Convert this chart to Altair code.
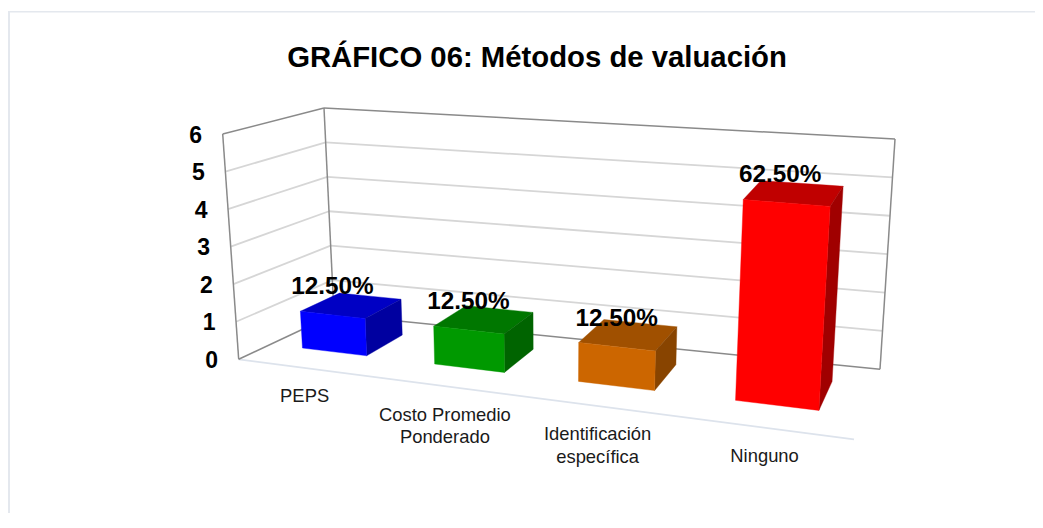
import altair as alt
import pandas as pd

# ---- chart content -------------------------------------------------
categories = ["PEPS", "Costo Promedio\nPonderado", "Identificación\nespecífica", "Ninguno"]
values = [1, 1, 1, 5]
pct_labels = ["12.50%", "12.50%", "12.50%", "62.50%"]
front_colors = ["#0000FF", "#009900", "#CC6600", "#FF0000"]
top_colors = ["#0000C4", "#007700", "#A05000", "#C00000"]
side_colors = ["#0000A0", "#006400", "#884400", "#A00000"]
axis_ticks = [0, 1, 2, 3, 4, 5, 6]
title_text = "GRÁFICO 06: Métodos de valuación"

# ---- fake-3D view: where the box corners of the value cube fall ----
VMAX = 6
FOCUS = 0.84
CORNERS = {
    (0, 0, 0): (238.7, 359.3), (0, 0, 1): (222.7, 134.0),
    (0, 1, 0): (334.0, 314.5), (0, 1, 1): (324.0, 108.0),
    (1, 0, 0): (854.0, 439.3), (1, 0, 1): (870.0, 184.0),
    (1, 1, 0): (880.0, 369.3), (1, 1, 1): (895.0, 139.0),
}
W_FRONT, W_BACK = 0.337, 0.76
HALF_BAR = 0.062


def project(s, w, v):
    u = s * FOCUS / (1 + s * (FOCUS - 1))
    t = v / VMAX
    x = y = 0.0
    for (a, b, c), (px, py) in CORNERS.items():
        k = (u if a else 1 - u) * (w if b else 1 - w) * (t if c else 1 - t)
        x += k * px
        y += k * py
    return x, y


def quad_rows(pts, fill, face):
    """Turn a convex polygon into rows of an area mark (x, y, y2)."""
    n = len(pts)
    rows = []
    for x in sorted(p[0] for p in pts):
        ys = []
        for i in range(n):
            (x0, y0), (x1, y1) = pts[i], pts[(i + 1) % n]
            if min(x0, x1) <= x <= max(x0, x1):
                ys.append(y0 if x0 == x1 else y0 + (y1 - y0) * (x - x0) / (x1 - x0))
        rows.append({"x": x, "y": min(ys), "y2": max(ys), "fill": fill, "face": face})
    return rows


# ---- tables ---------------------------------------------------------
GRID = "#D6D6D6"
EDGE = "#8A8A8A"
FLOOR = "#DDE3EC"
segs = []


def seg(a, b, color, width):
    (x, y), (x2, y2) = project(*a), project(*b)
    segs.append({"x": x, "y": y, "x2": x2, "y2": y2, "color": color, "width": width})


for tick in axis_ticks[1:-1]:
    seg((0, 0, tick), (0, 1, tick), GRID, 1.8)
    seg((0, 1, tick), (1, 1, tick), GRID, 1.8)
seg((0, 0, 0), (1, 0, 0), FLOOR, 1.8)
seg((0, 0, 0), (0, 1, 0), EDGE, 1.5)
seg((0, 1, 0), (1, 1, 0), EDGE, 1.5)
seg((0, 0, 0), (0, 0, VMAX), EDGE, 1.5)
seg((0, 1, 0), (0, 1, VMAX), EDGE, 1.5)
seg((1, 1, 0), (1, 1, VMAX), EDGE, 1.5)
seg((0, 0, VMAX), (0, 1, VMAX), EDGE, 1.5)
seg((0, 1, VMAX), (1, 1, VMAX), EDGE, 1.5)

faces = []
labels = []
cats = []
for i, val in enumerate(values):
    c = (i + 0.5) / len(values)
    s0, s1 = c - HALF_BAR, c + HALF_BAR
    fbl, fbr = project(s0, W_FRONT, 0), project(s1, W_FRONT, 0)
    bbr = project(s1, W_BACK, 0)
    ftl, ftr = project(s0, W_FRONT, val), project(s1, W_FRONT, val)
    btl, btr = project(s0, W_BACK, val), project(s1, W_BACK, val)
    faces += quad_rows([ftl, btl, btr, ftr], top_colors[i], f"t{i}")
    faces += quad_rows([ftr, btr, bbr, fbr], side_colors[i], f"s{i}")
    faces += quad_rows([fbl, ftl, ftr, fbr], front_colors[i], f"f{i}")
    fc = project(c, W_FRONT, val)
    labels.append({"x": fc[0], "y": fc[1], "text": pct_labels[i], "tall": val > 2})
    cx, cy = project(c, 0, 0)
    cats.append({"x": cx, "y": cy, "text": categories[i].split("\n")})

ticks = []
for t in axis_ticks:
    x, y = project(0, 0, t)
    ticks.append({"x": x, "y": y, "text": str(t)})

# ---- scales follow the page pixels -----------------------------------
W, H = 1027, 505
xs = alt.Scale(domain=[8, 8 + W], range=[0, W])
ys = alt.Scale(domain=[8, 8 + H], range=[0, H])
X = alt.X("x:Q", scale=xs, axis=None)
Y = alt.Y("y:Q", scale=ys, axis=None)

FONT = "Liberation Sans"

border = pd.DataFrame([
    {"x": 8, "y": 11.8, "x2": 1035, "y2": 11.8, "color": "#E4E8EE", "width": 1.6},
    {"x": 9, "y": 11, "x2": 9, "y2": 513, "color": "#E4E8EE", "width": 2},
])

seg_enc = dict(
    x=X, y=Y, x2="x2:Q", y2="y2:Q",
    color=alt.Color("color:N", scale=None),
    size=alt.Size("width:Q", scale=None),
)
border_layer = alt.Chart(border).mark_rule().encode(**seg_enc)
seg_layer = alt.Chart(pd.DataFrame(segs)).mark_rule().encode(**seg_enc)

face_layer = alt.Chart(pd.DataFrame(faces)).mark_area(strokeWidth=0.4, interpolate="linear").encode(
    x=X, y=Y, y2="y2:Q",
    color=alt.Color("fill:N", scale=None),
    stroke=alt.Stroke("fill:N", scale=None),
    detail="face:N",
)

ldf = pd.DataFrame(labels)
pct_low = alt.Chart(ldf[~ldf.tall]).mark_text(
    font=FONT, fontWeight="bold", fontSize=24.3, dy=-28, baseline="middle", color="#000000"
).encode(x=X, y=Y, text="text:N")
pct_tall = alt.Chart(ldf[ldf.tall]).mark_text(
    font=FONT, fontWeight="bold", fontSize=24.3, dy=-27.5, dx=-6, baseline="middle", color="#000000"
).encode(x=X, y=Y, text="text:N")

cat_layer = alt.Chart(pd.DataFrame(cats)).mark_text(
    font=FONT, fontSize=18.4, dy=19.5, baseline="top", lineHeight=22.5, color="#1A1A1A"
).encode(x=X, y=Y, text="text")

tick_layer = alt.Chart(pd.DataFrame(ticks)).mark_text(
    font=FONT, fontWeight="bold", fontSize=23, dx=-27, dy=1.5, baseline="middle", color="#000000"
).encode(x=X, y=Y, text="text:N")

title_layer = alt.Chart(pd.DataFrame([{"x": 537, "y": 58, "text": title_text}])).mark_text(
    font=FONT, fontWeight="bold", fontSize=29.3, baseline="middle", color="#000000"
).encode(x=X, y=Y, text="text:N")

chart = alt.layer(
    border_layer, seg_layer, face_layer, pct_low, pct_tall, cat_layer, tick_layer, title_layer
).properties(
    width=W, height=H, padding=0, autosize=alt.AutoSizeParams(type="none"), background="#FFFFFF"
).configure_view(stroke=None)

chart.save("out.html", embed_options={"renderer": "svg", "actions": False})
